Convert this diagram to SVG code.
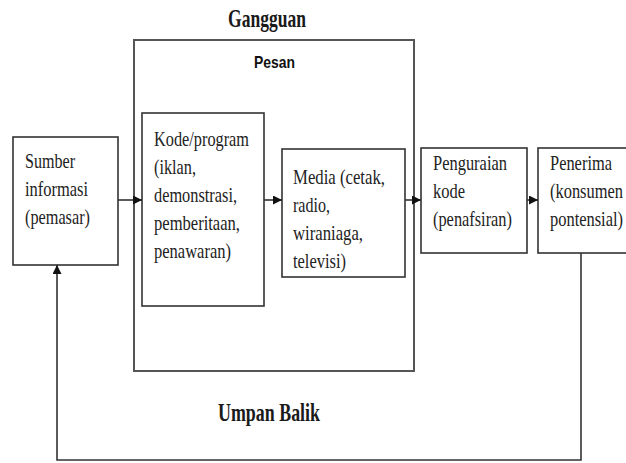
<svg xmlns="http://www.w3.org/2000/svg" width="626" height="463" viewBox="0 0 626 463">
<style>
.bg{fill:#fff}
.box{fill:#fff;stroke:#333;stroke-width:1.6}
.outer{fill:none;stroke:#555;stroke-width:2}
.t{font-family:"Liberation Serif","Times New Roman",serif;font-size:21px;fill:#222}
.title{font-family:"Liberation Serif","Times New Roman",serif;font-size:25px;font-weight:bold;fill:#1a1a1a}
.sans{font-family:"Liberation Sans",Arial,sans-serif;font-size:17px;font-weight:bold;fill:#111}
.ln{fill:none;stroke:#333;stroke-width:1.6}
</style>
<defs>
<marker id="ah" viewBox="0 0 10 10" refX="10" refY="5" markerWidth="9" markerHeight="9" markerUnits="userSpaceOnUse" orient="auto">
<path d="M0,0 L10,5 L0,10 z" fill="#111"/>
</marker>
</defs>
<rect class="bg" x="0" y="0" width="626" height="463"/>

<g id="pesan">
<rect class="outer" x="134" y="40" width="280" height="331"/>
<text class="sans" x="254" y="68" textLength="41" lengthAdjust="spacingAndGlyphs">Pesan</text>
</g>
<text id="gangguan" class="title" x="228" y="27" textLength="78" lengthAdjust="spacingAndGlyphs">Gangguan</text>
<text id="umpan-balik" class="title" x="218" y="421" textLength="102" lengthAdjust="spacingAndGlyphs">Umpan Balik</text>

<g id="sumber">
<rect class="box" x="13" y="137" width="105" height="128"/>
<text class="t" x="25" y="168" textLength="50" lengthAdjust="spacingAndGlyphs">Sumber</text>
<text class="t" x="25" y="196" textLength="63" lengthAdjust="spacingAndGlyphs">informasi</text>
<text class="t" x="25" y="224" textLength="65" lengthAdjust="spacingAndGlyphs">(pemasar)</text>
</g>

<g id="kode">
<rect class="box" x="142" y="113" width="122" height="193"/>
<text class="t" x="154" y="146" textLength="95" lengthAdjust="spacingAndGlyphs">Kode/program</text>
<text class="t" x="154" y="174" textLength="42" lengthAdjust="spacingAndGlyphs">(iklan,</text>
<text class="t" x="154" y="202" textLength="83" lengthAdjust="spacingAndGlyphs">demonstrasi,</text>
<text class="t" x="154" y="230" textLength="86" lengthAdjust="spacingAndGlyphs">pemberitaan,</text>
<text class="t" x="154" y="258" textLength="77" lengthAdjust="spacingAndGlyphs">penawaran)</text>
</g>

<g id="media">
<rect class="box" x="282" y="149" width="123" height="128"/>
<text class="t" x="293" y="184" textLength="92" lengthAdjust="spacingAndGlyphs">Media (cetak,</text>
<text class="t" x="293" y="212" textLength="37" lengthAdjust="spacingAndGlyphs">radio,</text>
<text class="t" x="293" y="240" textLength="70" lengthAdjust="spacingAndGlyphs">wiraniaga,</text>
<text class="t" x="293" y="268" textLength="53" lengthAdjust="spacingAndGlyphs">televisi)</text>
</g>

<g id="penguraian">
<rect class="box" x="421" y="148" width="106" height="105"/>
<text class="t" x="433" y="170" textLength="74" lengthAdjust="spacingAndGlyphs">Penguraian</text>
<text class="t" x="433" y="198" textLength="32" lengthAdjust="spacingAndGlyphs">kode</text>
<text class="t" x="433" y="226" textLength="79" lengthAdjust="spacingAndGlyphs">(penafsiran)</text>
</g>

<g id="penerima">
<rect class="box" x="538" y="148" width="100" height="105"/>
<text class="t" x="550" y="170" textLength="62" lengthAdjust="spacingAndGlyphs">Penerima</text>
<text class="t" x="550" y="198" textLength="73" lengthAdjust="spacingAndGlyphs">(konsumen</text>
<text class="t" x="550" y="226" textLength="73" lengthAdjust="spacingAndGlyphs">pontensial)</text>
</g>

<g id="connectors">
<line class="ln" x1="118" y1="200" x2="142" y2="200" marker-end="url(#ah)"/>
<line class="ln" x1="264" y1="200" x2="282" y2="200" marker-end="url(#ah)"/>
<line class="ln" x1="405" y1="200" x2="421" y2="200" marker-end="url(#ah)"/>
<line class="ln" x1="527" y1="200" x2="538" y2="200" marker-end="url(#ah)"/>
<polyline class="ln" points="581,253 581,460 57,460 57,265" marker-end="url(#ah)"/>
</g>
</svg>
